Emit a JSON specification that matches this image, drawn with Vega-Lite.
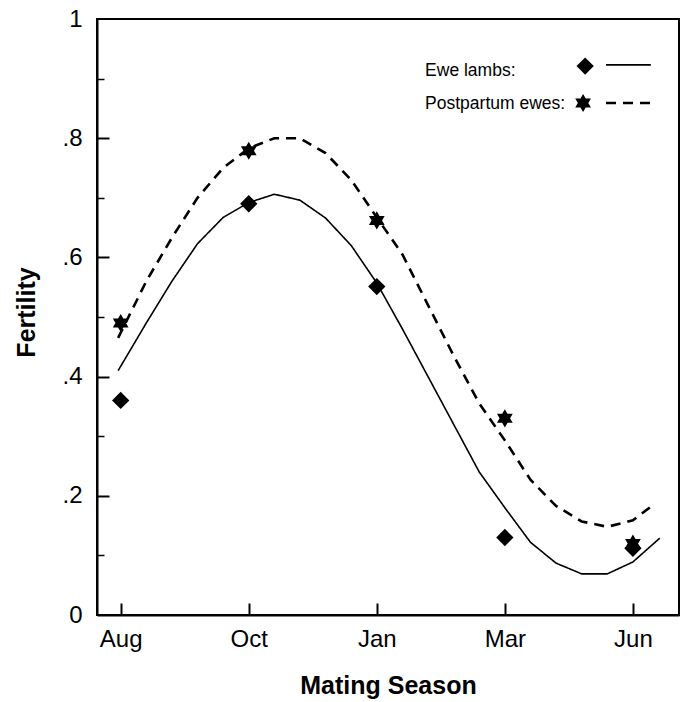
{
  "$schema": "https://vega.github.io/schema/vega-lite/v6.json",
  "width": 582,
  "height": 596,
  "autosize": {"type": "none"},
  "padding": {"left": 97, "top": 19, "right": 10, "bottom": 87},
  "background": "white",
  "config": {
    "view": {"stroke": "black", "strokeWidth": 2},
    "font": "Liberation Sans",
    "axis": {
      "grid": false,
      "domainColor": "black",
      "domainWidth": 2,
      "tickColor": "black",
      "tickWidth": 1.5,
      "labelFont": "Liberation Sans",
      "labelFontSize": 24,
      "labelColor": "black",
      "titleFont": "Liberation Sans",
      "titleFontSize": 25,
      "titleFontWeight": "bold",
      "titleColor": "black",
      "labelOverlap": false,
      "labelFlush": false
    }
  },
  "datasets": {
    "obs": [
      {"series": "Ewe lambs", "season": 1, "fertility": 0.36},
      {"series": "Ewe lambs", "season": 2, "fertility": 0.69},
      {"series": "Ewe lambs", "season": 3, "fertility": 0.551},
      {"series": "Ewe lambs", "season": 4, "fertility": 0.13},
      {"series": "Ewe lambs", "season": 5, "fertility": 0.112},
      {"series": "Postpartum ewes", "season": 1, "fertility": 0.49},
      {"series": "Postpartum ewes", "season": 2, "fertility": 0.779},
      {"series": "Postpartum ewes", "season": 3, "fertility": 0.662},
      {"series": "Postpartum ewes", "season": 4, "fertility": 0.33},
      {"series": "Postpartum ewes", "season": 5, "fertility": 0.12}
    ],
    "fit": [
      {"series": "Ewe lambs", "season": 0.98, "fitted": 0.41},
      {"series": "Ewe lambs", "season": 1.2, "fitted": 0.49},
      {"series": "Ewe lambs", "season": 1.4, "fitted": 0.56},
      {"series": "Ewe lambs", "season": 1.6, "fitted": 0.623},
      {"series": "Ewe lambs", "season": 1.8, "fitted": 0.667},
      {"series": "Ewe lambs", "season": 2.0, "fitted": 0.692},
      {"series": "Ewe lambs", "season": 2.2, "fitted": 0.706},
      {"series": "Ewe lambs", "season": 2.4, "fitted": 0.696},
      {"series": "Ewe lambs", "season": 2.6, "fitted": 0.666},
      {"series": "Ewe lambs", "season": 2.8, "fitted": 0.62},
      {"series": "Ewe lambs", "season": 3.0, "fitted": 0.557},
      {"series": "Ewe lambs", "season": 3.2, "fitted": 0.48},
      {"series": "Ewe lambs", "season": 3.4, "fitted": 0.4},
      {"series": "Ewe lambs", "season": 3.6, "fitted": 0.32},
      {"series": "Ewe lambs", "season": 3.8, "fitted": 0.24},
      {"series": "Ewe lambs", "season": 4.0, "fitted": 0.18},
      {"series": "Ewe lambs", "season": 4.2, "fitted": 0.122},
      {"series": "Ewe lambs", "season": 4.4, "fitted": 0.087},
      {"series": "Ewe lambs", "season": 4.6, "fitted": 0.069},
      {"series": "Ewe lambs", "season": 4.8, "fitted": 0.069},
      {"series": "Ewe lambs", "season": 5.0, "fitted": 0.089},
      {"series": "Ewe lambs", "season": 5.21, "fitted": 0.129},
      {"series": "Postpartum ewes", "season": 0.98, "fitted": 0.465},
      {"series": "Postpartum ewes", "season": 1.2, "fitted": 0.56},
      {"series": "Postpartum ewes", "season": 1.4, "fitted": 0.633},
      {"series": "Postpartum ewes", "season": 1.6, "fitted": 0.7},
      {"series": "Postpartum ewes", "season": 1.8, "fitted": 0.75},
      {"series": "Postpartum ewes", "season": 2.0, "fitted": 0.783},
      {"series": "Postpartum ewes", "season": 2.2, "fitted": 0.8},
      {"series": "Postpartum ewes", "season": 2.4, "fitted": 0.8},
      {"series": "Postpartum ewes", "season": 2.6, "fitted": 0.775},
      {"series": "Postpartum ewes", "season": 2.8, "fitted": 0.73},
      {"series": "Postpartum ewes", "season": 3.0, "fitted": 0.667},
      {"series": "Postpartum ewes", "season": 3.2, "fitted": 0.605},
      {"series": "Postpartum ewes", "season": 3.4, "fitted": 0.52},
      {"series": "Postpartum ewes", "season": 3.6, "fitted": 0.435},
      {"series": "Postpartum ewes", "season": 3.8, "fitted": 0.355},
      {"series": "Postpartum ewes", "season": 4.0, "fitted": 0.293},
      {"series": "Postpartum ewes", "season": 4.2, "fitted": 0.227},
      {"series": "Postpartum ewes", "season": 4.4, "fitted": 0.183},
      {"series": "Postpartum ewes", "season": 4.6, "fitted": 0.157},
      {"series": "Postpartum ewes", "season": 4.8, "fitted": 0.148},
      {"series": "Postpartum ewes", "season": 5.0, "fitted": 0.159},
      {"series": "Postpartum ewes", "season": 5.16, "fitted": 0.185}
    ],
    "legend": [
      {"series": "Ewe lambs", "label": "Ewe lambs:", "tx": 3.377, "ty": 0.913, "sx": 4.627, "sy": 0.921, "lx": 4.79, "lx2": 5.14, "ly": 0.923},
      {"series": "Postpartum ewes", "label": "Postpartum ewes:", "tx": 3.377, "ty": 0.857, "sx": 4.611, "sy": 0.859, "lx": 4.79, "lx2": 5.14, "ly": 0.859}
    ]
  },
  "resolve": {"axis": {"y": "independent"}},
  "layer": [
    {
      "data": {"name": "fit"},
      "mark": {"type": "line", "color": "black", "interpolate": "linear"},
      "encoding": {
        "x": {
          "field": "season", "type": "quantitative",
          "scale": {"domain": [0.815, 5.36], "nice": false, "zero": false},
          "axis": {
            "title": "Mating Season",
            "values": [1, 2, 3, 4, 5],
            "labelExpr": "['', 'Aug', 'Oct', 'Jan', 'Mar', 'Jun'][datum.value]",
            "tickSize": -12,
            "tickWidth": 2,
            "labelPadding": 24,
            "titleX": 291,
            "titleY": 78,
            "titleBaseline": "alphabetic",
            "titleAnchor": "start",
            "titleAlign": "center"
          }
        },
        "y": {
          "field": "fitted", "type": "quantitative",
          "scale": {"domain": [0, 1], "nice": false},
          "axis": {
            "orient": "left",
            "title": "Fertility",
            "values": [0, 0.2, 0.4, 0.6, 0.8, 1],
            "labelExpr": "datum.value == 0 ? '0' : datum.value == 1 ? '1' : '.' + round(datum.value*10)",
            "ticks": false,
            "labelPadding": 15,
            "titleX": -71,
            "titleY": 293,
            "titleAngle": -90,
            "titleAlign": "center",
            "titleBaseline": "middle",
            "titleAnchor": "start"
          }
        },
        "detail": {"field": "series"},
        "strokeDash": {
          "field": "series", "type": "nominal",
          "scale": {"domain": ["Ewe lambs", "Postpartum ewes"], "range": [[1, 0], [10, 7]]},
          "legend": null
        },
        "strokeWidth": {
          "field": "series", "type": "nominal",
          "scale": {"domain": ["Ewe lambs", "Postpartum ewes"], "range": [1.6, 2.6]},
          "legend": null
        }
      }
    },
    {
      "data": {"name": "obs"},
      "mark": {"type": "point", "filled": true, "color": "black", "opacity": 1},
      "encoding": {
        "x": {"field": "season", "type": "quantitative"},
        "y": {
          "field": "fertility", "type": "quantitative",
          "axis": {
            "orient": "left",
            "title": null,
            "values": [0.1, 0.3, 0.5, 0.7, 0.9],
            "labels": false,
            "domain": false,
            "tickSize": -7
          }
        },
        "shape": {
          "field": "series", "type": "nominal",
          "scale": {"domain": ["Ewe lambs", "Postpartum ewes"], "range": ["diamond", "M0,-1L0.866,0.5L-0.866,0.5Z M0,1L-0.866,-0.5L0.866,-0.5Z"]},
          "legend": null
        },
        "size": {
          "field": "series", "type": "nominal",
          "scale": {"domain": ["Ewe lambs", "Postpartum ewes"], "range": [300, 330]},
          "legend": null
        }
      }
    },
    {
      "data": {"name": "legend"},
      "mark": {"type": "text", "align": "left", "baseline": "middle", "fontSize": 17.5, "font": "Liberation Sans", "color": "black"},
      "encoding": {
        "x": {"field": "tx", "type": "quantitative"},
        "y": {
          "field": "ty", "type": "quantitative",
          "axis": {
            "orient": "left",
            "title": null,
            "values": [0.2, 0.4, 0.6, 0.8],
            "labels": false,
            "domain": false,
            "tickSize": -12,
            "tickWidth": 2
          }
        },
        "text": {"field": "label"}
      }
    },
    {
      "data": {"name": "legend"},
      "mark": {"type": "point", "filled": true, "color": "black", "opacity": 1},
      "encoding": {
        "x": {"field": "sx", "type": "quantitative"},
        "y": {"field": "sy", "type": "quantitative", "axis": null},
        "shape": {"field": "series", "type": "nominal", "legend": null},
        "size": {"field": "series", "type": "nominal", "legend": null}
      }
    },
    {
      "data": {"name": "legend"},
      "mark": {"type": "rule", "color": "black"},
      "encoding": {
        "x": {"field": "lx", "type": "quantitative"},
        "x2": {"field": "lx2"},
        "y": {"field": "ly", "type": "quantitative", "axis": null},
        "strokeDash": {"field": "series", "type": "nominal", "legend": null},
        "strokeWidth": {"field": "series", "type": "nominal", "legend": null}
      }
    }
  ]
}
